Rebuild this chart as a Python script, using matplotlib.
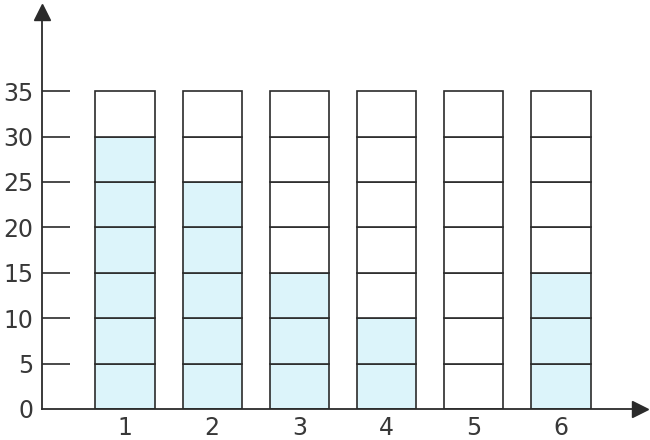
import matplotlib.pyplot as plt

# values
categories = [1, 2, 3, 4, 5, 6]
values = [30, 25, 15, 10, 0, 15]
yticks = [0, 5, 10, 15, 20, 25, 30, 35]
step = 5
total = 35

fill = '#dcf4fa'
line = '#2b2b2b'

fig = plt.figure(figsize=(6.5, 4.4), dpi=100)
ax = fig.add_axes([0.0646, 0.0705, 0.92, 0.902])

# stacked boxes for each column
for x, v in zip(categories, values):
    for b in range(0, total, step):
        ax.bar(x, step, bottom=b, width=0.68,
               color=fill if b < v else 'white',
               edgecolor=line, linewidth=1.2, zorder=2)

ax.set_xlim(0.048, 6.906)
ax.set_ylim(0, 43.7)

# short tick stubs from the y axis
ax.hlines(yticks[1:], 0.048, 0.37, color=line, linewidth=1.2, zorder=1)

for s in ['top', 'right']:
    ax.spines[s].set_visible(False)
for s in ['left', 'bottom']:
    ax.spines[s].set_color(line)
    ax.spines[s].set_linewidth(1.3)

# arrow heads
ax.plot(0, 1, marker='^', markersize=12, color=line, transform=ax.transAxes, clip_on=False)
ax.plot(1, 0, marker='>', markersize=12, color=line, transform=ax.transAxes, clip_on=False)

ax.set_xticks(categories)
ax.set_yticks(yticks)
ax.tick_params(axis='both', length=0, labelsize=17, labelcolor='#383838')
ax.tick_params(axis='y', pad=6)
ax.tick_params(axis='x', pad=5)

fig.savefig('out.png', dpi=100)
